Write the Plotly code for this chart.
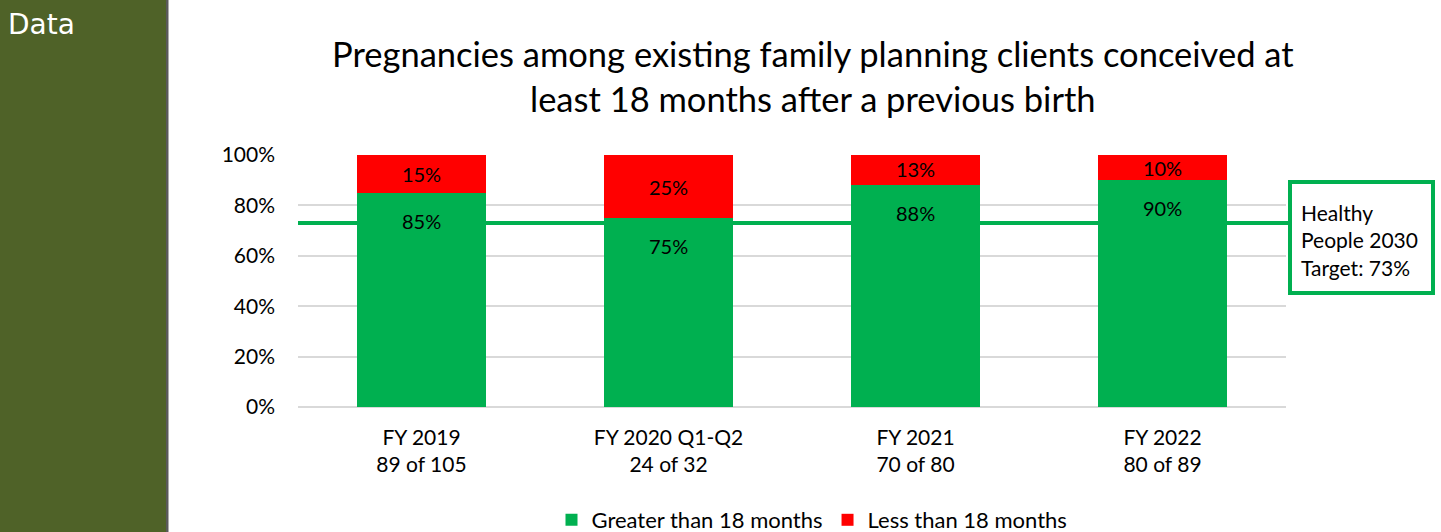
import plotly.graph_objects as go

W, H = 1441, 532
categories = ["FY 2019<br>89 of 105", "FY 2020 Q1-Q2<br>24 of 32", "FY 2021<br>70 of 80", "FY 2022<br>80 of 89"]
greater = [85, 75, 88, 90]
less = [15, 25, 13, 10]
target = 73

GREEN = "#00B050"
RED = "#FF0000"
FONT = "Lato"
LBL = 20

def px(x):
    return x / W

def py(y):
    return 1 - y / H

fig = go.Figure()
fig.add_trace(go.Bar(
    x=categories, y=greater, name="Greater than 18 months",
    marker=dict(color=GREEN, line=dict(width=0)),
))
fig.add_trace(go.Bar(
    x=categories, y=less, name="Less than 18 months",
    marker=dict(color=RED, line=dict(width=0)),
    text=[f"{v}%" for v in less], textposition="inside", insidetextanchor="middle",
    textfont=dict(color="black", size=LBL, family=FONT), textangle=0,
))

shapes = [
    dict(type="rect", xref="paper", yref="paper", x0=0, x1=px(166), y0=0, y1=1,
         fillcolor="#4F6228", line=dict(width=0), layer="below"),
    dict(type="rect", xref="paper", yref="paper", x0=px(166), x1=px(168.5), y0=0, y1=1,
         fillcolor="#5A5A5A", line=dict(width=0), layer="below"),
    dict(type="line", xref="paper", yref="y", x0=px(298), x1=px(1290), y0=target, y1=target,
         line=dict(color=GREEN, width=4)),
    dict(type="rect", xref="paper", yref="paper", x0=px(1290), x1=px(1433), y0=py(293), y1=py(182),
         fillcolor="white", line=dict(color=GREEN, width=4)),
]

annotations = [
    dict(text="Data", xref="paper", yref="paper", x=px(6), y=py(25), xanchor="left", yanchor="middle",
         showarrow=False, font=dict(family="DejaVu Sans", size=28, color="white")),
    dict(text="Pregnancies among existing family planning clients conceived at<br>least 18 months after a previous birth",
         xref="paper", yref="paper", x=px(813), y=py(76), xanchor="center", yanchor="middle",
         showarrow=False, font=dict(family=FONT, size=34.5, color="black")),
    dict(text="Healthy<br>People 2030<br>Target: 73%", xref="paper", yref="paper",
         x=px(1299), y=py(240), xanchor="left", yanchor="middle", align="left",
         showarrow=False, font=dict(family=FONT, size=21, color="black")),
]
for c, v in zip(categories, greater):
    annotations.append(dict(text=f"{v}%", x=c, y=v, xref="x", yref="y", yanchor="top", yshift=-14,
                            showarrow=False, font=dict(family=FONT, size=LBL, color="black")))

fig.update_layout(
    autosize=True,
    margin=dict(l=0, r=0, t=0, b=0, autoexpand=False),
    paper_bgcolor="white", plot_bgcolor="white",
    barmode="stack", bargap=0.474,
    font=dict(family=FONT, size=20, color="black"),
    shapes=shapes, annotations=annotations,
    uniformtext=dict(mode="show", minsize=LBL),
    legend=dict(orientation="h", x=px(812), y=py(520), xanchor="center", yanchor="middle",
                font=dict(family=FONT, size=22, color="black"), traceorder="normal",
                itemwidth=30),
    xaxis=dict(domain=[px(298), px(1286)], showgrid=False, showline=False, ticks="",
               automargin=False,
               tickfont=dict(family=FONT, size=21, color="black"), ticklabelstandoff=16),
    yaxis=dict(domain=[py(407), py(155)], range=[0, 100], dtick=20, ticksuffix="%",
               automargin=False,
               showgrid=True, gridcolor="#D9D9D9", gridwidth=2, zeroline=True,
               zerolinecolor="#D9D9D9", zerolinewidth=2, showline=False,
               tickfont=dict(family=FONT, size=21, color="black"), ticklabelstandoff=22),
)

fig.write_html("out.html", default_width="100%", default_height="100%")
